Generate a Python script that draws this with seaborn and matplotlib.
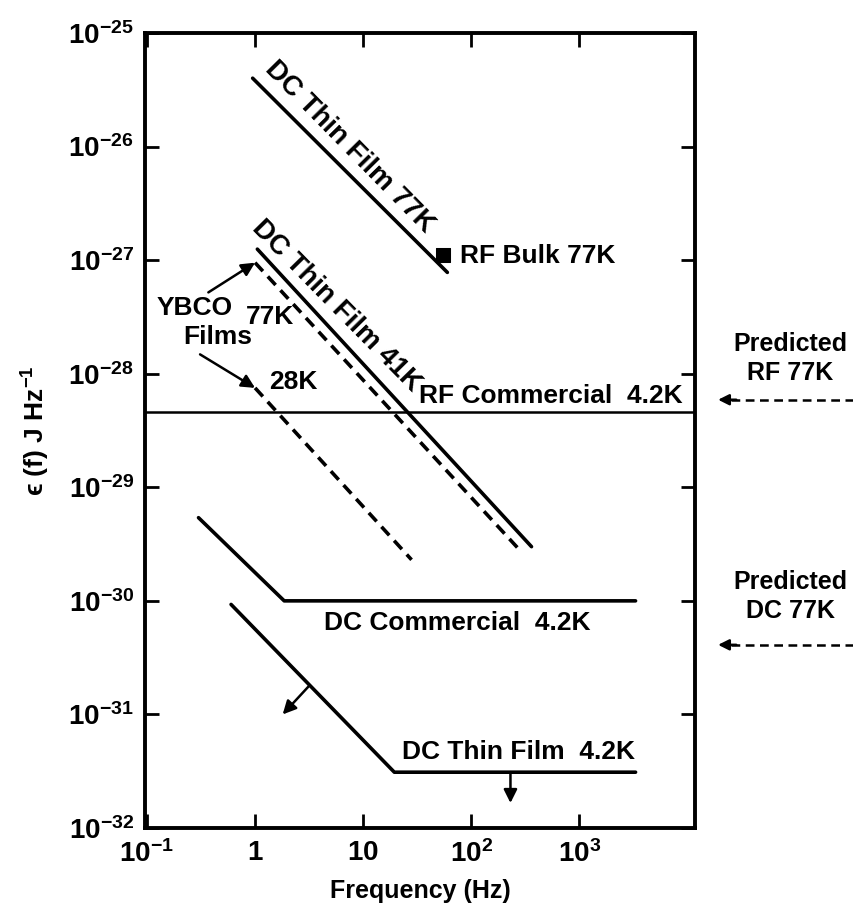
import numpy as np
import pandas as pd
import matplotlib
matplotlib.use("Agg")
import matplotlib.pyplot as plt
import matplotlib.transforms as mtransforms
from matplotlib.lines import Line2D
import seaborn as sns

# ---- data -----------------------------------------------------------------
dc_film_77k_f = [0.95, 60]
dc_film_77k_e = [4.0e-26, 7.8e-28]

dc_film_41k_f = [1.05, 360]
dc_film_41k_e = [1.25e-27, 3.0e-30]

ybco_77k_f = [1.0, 280]
ybco_77k_e = [9.5e-28, 2.8e-30]

ybco_28k_f = [1.0, 28]
ybco_28k_e = [7.5e-29, 2.3e-30]

rf_commercial_e = 4.6e-29

dc_commercial_f = [0.30, 1.86, 3300]
dc_commercial_e = [5.4e-30, 1.0e-30, 1.0e-30]

dc_film_42k_f = [0.60, 19.4, 3300]
dc_film_42k_e = [9.3e-31, 3.1e-32, 3.1e-32]

rf_bulk_77k_f = [55]
rf_bulk_77k_e = [1.1e-27]

predicted_rf_77k = 5.9e-29
predicted_dc_77k = 4.1e-31

x_ticks = [0.1, 1, 10, 100, 1000]
x_labels = [r"$\mathbf{10^{-1}}$", r"$\mathbf{1}$", r"$\mathbf{10}$",
            r"$\mathbf{10^{2}}$", r"$\mathbf{10^{3}}$"]
y_ticks = [1e-32, 1e-31, 1e-30, 1e-29, 1e-28, 1e-27, 1e-26, 1e-25]
y_labels = [r"$\mathbf{10^{%d}}$" % p for p in range(-32, -24)]

# ---- style ----------------------------------------------------------------
sns.set_theme(style="ticks")
INK = "black"
plt.rcParams["font.family"] = ["Liberation Sans", "DejaVu Sans"]
plt.rcParams["font.weight"] = "bold"
plt.rcParams["text.color"] = INK
plt.rcParams["axes.labelcolor"] = INK
plt.rcParams["xtick.color"] = INK
plt.rcParams["ytick.color"] = INK
plt.rcParams["mathtext.fontset"] = "custom"
plt.rcParams["mathtext.rm"] = "Liberation Sans:bold"
plt.rcParams["mathtext.bf"] = "Liberation Sans:bold"
plt.rcParams["mathtext.it"] = "Liberation Sans:bold"

FS = 19

fig = plt.figure(figsize=(8.54, 9.08), dpi=100)
ax = fig.add_axes([145 / 854, 1 - 828 / 908, 550 / 854, 795 / 908])
ax.set_xscale("log")
ax.set_yscale("log")
ax.set_xlim(0.096, 1.17e4)
ax.set_ylim(1e-32, 1e-25)


def curve(f, e, dashed=False, lw=2.6):
    df = pd.DataFrame({"f": f, "e": e})
    kw = dict(linestyle=(0, (3.2, 2.0))) if dashed else {}
    sns.lineplot(data=df, x="f", y="e", ax=ax, color=INK, linewidth=lw,
                 estimator=None, sort=False, **kw)


def on_curve(fs, es, f):
    return 10 ** np.interp(np.log10(f), np.log10(fs), np.log10(es))


curve(dc_film_77k_f, dc_film_77k_e)
curve(dc_film_41k_f, dc_film_41k_e)
curve(ybco_77k_f, ybco_77k_e, dashed=True)
curve(ybco_28k_f, ybco_28k_e, dashed=True)
curve(dc_commercial_f, dc_commercial_e)
curve(dc_film_42k_f, dc_film_42k_e)
ax.axhline(rf_commercial_e, color=INK, lw=1.8)
sns.scatterplot(x=rf_bulk_77k_f, y=rf_bulk_77k_e, ax=ax, marker="s", s=90,
                color=INK, edgecolor=INK, zorder=5)

# ---- labels along the sloped lines ---------------------------------------
ang = -45.5
for fs, es, fc, txt in [(dc_film_77k_f, dc_film_77k_e, 5.5, "DC Thin Film 77K"),
                        (dc_film_41k_f, dc_film_41k_e, 4.2, "DC Thin Film 41K")]:
    ax.annotate(txt, xy=(fc, on_curve(fs, es, fc)), xytext=(14, 14),
                textcoords="offset pixels", rotation=ang, rotation_mode="anchor",
                ha="center", va="center", fontsize=20, fontweight="bold")

ax.text(79, 1.09e-27, "RF Bulk 77K", fontsize=FS, fontweight="bold",
        ha="left", va="center")
ax.text(9000, 6.4e-29, "RF Commercial  4.2K", fontsize=FS, fontweight="bold",
        ha="right", va="center")
ax.text(74, 6.4e-31, "DC Commercial  4.2K", fontsize=FS, fontweight="bold",
        ha="center", va="center")
ax.text(272, 4.7e-32, "DC Thin Film  4.2K", fontsize=FS, fontweight="bold",
        ha="center", va="center")
ax.text(0.625, 3.8e-28, "YBCO", fontsize=FS, fontweight="bold",
        ha="right", va="center")
ax.text(0.45, 2.1e-28, "Films", fontsize=FS, fontweight="bold",
        ha="center", va="center")
ax.text(1.38, 3.16e-28, "77K", fontsize=FS, fontweight="bold",
        ha="center", va="center")
ax.text(2.25, 8.5e-29, "28K", fontsize=FS, fontweight="bold",
        ha="center", va="center")

arrow_kw = dict(arrowstyle="-|>", color=INK, lw=1.8, mutation_scale=20,
                shrinkA=0, shrinkB=0)
ax.annotate("", xy=(ybco_77k_f[0], ybco_77k_e[0]), xytext=(0.37, 5.2e-28),
            arrowprops=arrow_kw)
ax.annotate("", xy=(ybco_28k_f[0], ybco_28k_e[0]), xytext=(0.31, 1.48e-28),
            arrowprops=arrow_kw)
ax.annotate("", xy=(1.8, 1.0e-31),
            xytext=(3.2, on_curve(dc_film_42k_f, dc_film_42k_e, 3.2)),
            arrowprops=arrow_kw)
ax.annotate("", xy=(230, 1.66e-32), xytext=(230, dc_film_42k_e[-1]),
            arrowprops=arrow_kw)

# ---- predicted levels outside the frame -----------------------------------
blend = mtransforms.blended_transform_factory(ax.transAxes, ax.transData)
for level, name, dy in [(predicted_rf_77k, "Predicted\nRF 77K", 41),
                        (predicted_dc_77k, "Predicted\nDC 77K", 48)]:
    ln = Line2D([1.065, 1.30], [level, level], transform=blend, color=INK,
                lw=1.8, linestyle=(0, (3.5, 2.2)), clip_on=False)
    ax.add_line(ln)
    ax.annotate("", xy=(1.042, level), xycoords=blend,
                xytext=(1.075, level), textcoords=blend,
                arrowprops=dict(arrowstyle="-|>", color=INK, lw=1.8,
                                mutation_scale=16, shrinkA=0, shrinkB=0),
                annotation_clip=False)
    ax.annotate(name, xy=(1.173, level), xycoords=blend,
                xytext=(0, dy), textcoords="offset pixels",
                ha="center", va="center", fontsize=18, fontweight="bold",
                linespacing=1.25, annotation_clip=False)

# ---- axes frame and ticks -------------------------------------------------
ax.xaxis.set_major_locator(matplotlib.ticker.FixedLocator(x_ticks))
ax.xaxis.set_major_formatter(matplotlib.ticker.FixedFormatter(x_labels))
ax.yaxis.set_major_locator(matplotlib.ticker.FixedLocator(y_ticks))
ax.yaxis.set_major_formatter(matplotlib.ticker.FixedFormatter(y_labels))
ax.xaxis.set_minor_locator(matplotlib.ticker.NullLocator())
ax.yaxis.set_minor_locator(matplotlib.ticker.NullLocator())
ax.tick_params(which="major", direction="in", length=10, width=2,
               top=True, right=True, labelsize=20, color=INK, labelcolor=INK)
ax.tick_params(axis="x", pad=9)
ax.tick_params(axis="y", pad=8)
for s in ax.spines.values():
    s.set_visible(True)
    s.set_linewidth(2.8)
    s.set_color(INK)

ax.set_xlabel("Frequency (Hz)", fontsize=18, fontweight="bold", labelpad=8)
ax.set_ylabel("ϵ (f) J Hz$^{-1}$", fontsize=19, fontweight="bold", labelpad=12)

fig.savefig("out.png", dpi=100, facecolor="white")
